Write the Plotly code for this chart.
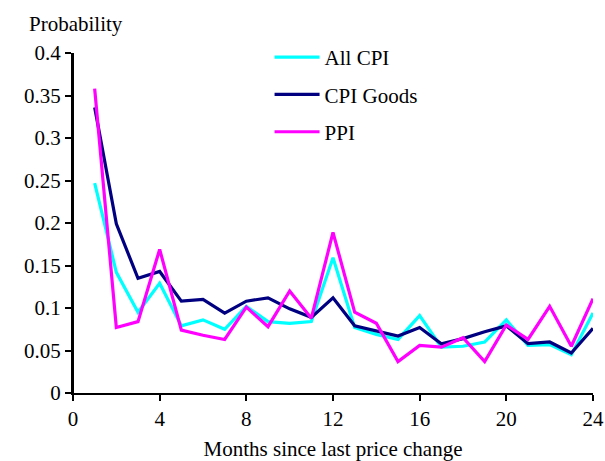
import plotly.graph_objects as go

months = list(range(1, 25))
all_cpi = [0.247, 0.142, 0.095, 0.129, 0.079, 0.086, 0.075, 0.102, 0.084, 0.082, 0.084, 0.159,
           0.077, 0.069, 0.063, 0.091, 0.054, 0.055, 0.060, 0.086, 0.056, 0.057, 0.045, 0.094]
cpi_goods = [0.336, 0.199, 0.135, 0.143, 0.108, 0.110, 0.094, 0.108, 0.112, 0.099, 0.089, 0.112,
             0.079, 0.073, 0.067, 0.077, 0.058, 0.064, 0.072, 0.079, 0.058, 0.060, 0.047, 0.076]
ppi = [0.358, 0.077, 0.084, 0.169, 0.074, 0.068, 0.063, 0.101, 0.078, 0.120, 0.088, 0.189,
       0.095, 0.082, 0.037, 0.056, 0.054, 0.065, 0.037, 0.080, 0.063, 0.102, 0.055, 0.111]

x_ticks = [0, 4, 8, 12, 16, 20, 24]
y_ticks = [0, 0.05, 0.1, 0.15, 0.2, 0.25, 0.3, 0.35, 0.4]
y_labels = ["0", "0.05", "0.1", "0.15", "0.2", "0.25", "0.3", "0.35", "0.4"]

series = [
    ("All CPI", all_cpi, "#00ffff"),
    ("CPI Goods", cpi_goods, "#000080"),
    ("PPI", ppi, "#ff00ff"),
]

FONT = "Liberation Serif, DejaVu Serif, serif"
SIZE = 21

fig = go.Figure()
for i, (name, vals, color) in enumerate(series):
    fig.add_trace(
        go.Scatter(
            x=months,
            y=vals,
            mode="lines",
            name=name,
            legendgroup=f"g{i}",
            line=dict(color=color, width=3.2),
        )
    )

fig.update_layout(
    width=605,
    height=461,
    margin=dict(l=73, r=12, t=53, b=68, autoexpand=False),
    paper_bgcolor="white",
    plot_bgcolor="white",
    font=dict(family=FONT, size=SIZE, color="black"),
    showlegend=True,
    legend=dict(
        x=0.378,
        y=1.047,
        xanchor="left",
        yanchor="top",
        traceorder="grouped",
        tracegroupgap=7,
        bgcolor="rgba(0,0,0,0)",
        font=dict(family=FONT, size=SIZE),
        itemwidth=45,
    ),
    annotations=[
        dict(
            text="Probability",
            xref="paper",
            yref="paper",
            x=-0.089,
            y=1.085,
            xanchor="left",
            yanchor="middle",
            showarrow=False,
            font=dict(family=FONT, size=SIZE),
        )
    ],
)

axis = dict(
    showgrid=False,
    zeroline=False,
    showline=True,
    linecolor="black",
    linewidth=2,
    ticks="outside",
    ticklen=6,
    tickwidth=2,
    tickcolor="black",
)
fig.update_xaxes(
    **axis,
    range=[0, 24],
    tickvals=x_ticks,
    title=dict(text="Months since last price change", standoff=12, font=dict(family=FONT, size=SIZE)),
)
fig.update_yaxes(
    **axis,
    range=[0, 0.4],
    tickvals=y_ticks,
    ticktext=y_labels,
    ticksuffix="  ",
)

# the y axis line, drawn on top so it always shows
fig.add_shape(
    type="line",
    xref="paper",
    yref="paper",
    x0=0,
    x1=0,
    y0=0,
    y1=1,
    line=dict(color="black", width=2),
    layer="above",
)

fig.write_html(
    "out.html",
    config={"displayModeBar": False},
    post_script="document.body.style.margin='0';",
)
